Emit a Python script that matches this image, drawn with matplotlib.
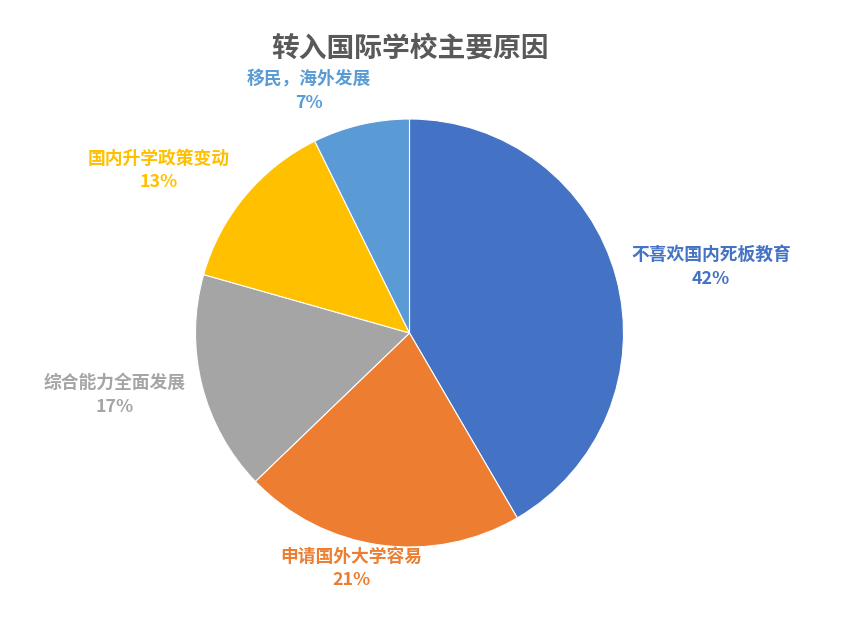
import matplotlib.pyplot as plt
import matplotlib.patheffects as pe

plt.rcParams['font.family'] = ['Noto Sans CJK SC', 'DejaVu Sans']

# data (shares; labels show them rounded)
reasons = ['不喜欢国内死板教育', '申请国外大学容易', '综合能力全面发展', '国内升学政策变动', '移民，海外发展']
shares = [41.6, 21.2, 16.6, 13.3, 7.3]
colours = ['#4472C4', '#ED7D31', '#A5A5A5', '#FFC000', '#5B9BD5']
# label offsets from the pie centre, in pie radii
label_pos = [(1.41, 0.31), (-0.27, -1.10), (-1.38, -0.29), (-1.17, 0.76), (-0.47, 1.13)]

W, H = 848, 619
cx, cy, R = 409.5, 333, 214

fig = plt.figure(figsize=(W / 100, H / 100), dpi=100)
ax = fig.add_axes([0, 0, 1, 1])

wedges, _ = ax.pie(shares, colors=colours, startangle=90, counterclock=False,
                   radius=1, wedgeprops=dict(edgecolor='white', linewidth=0.8))
for w in wedges:
    w.set_path_effects([pe.SimplePatchShadow(offset=(0, 0), alpha=0.15, rho=1.0), pe.Normal()])

# pie() resets the limits, so set them afterwards
ax.set_xlim(-cx / R, (W - cx) / R)
ax.set_ylim(-(H - cy) / R, cy / R)
ax.axis('off')

for name, val, col, (lx, ly) in zip(reasons, shares, colours, label_pos):
    ax.text(lx, ly, f'{name}\n{val:.0f}%', ha='center', va='center', color=col,
            fontsize=12.8, fontweight='bold', linespacing=1.42)

fig.text(410 / W, 1 - 49 / H, '转入国际学校主要原因', ha='center', va='center',
         fontsize=20, fontweight='bold', color='#595959')

fig.savefig('out.png', dpi=100)
